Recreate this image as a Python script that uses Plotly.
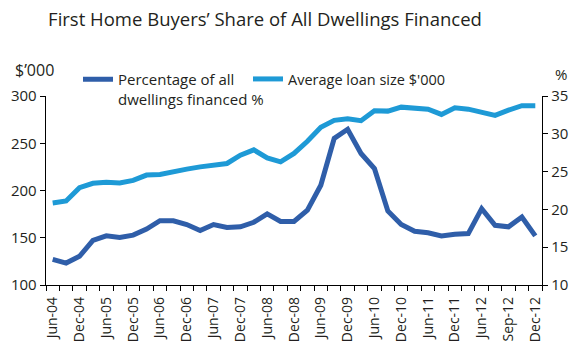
import plotly.graph_objects as go

# Category labels (shown on every other category)
tick_labels = ["Jun-04", "Dec-04", "Jun-05", "Dec-05", "Jun-06", "Dec-06", "Jun-07",
               "Dec-07", "Jun-08", "Dec-08", "Jun-09", "Dec-09", "Jun-10", "Dec-10",
               "Jun-11", "Dec-11", "Jun-12", "Sep-12", "Dec-12"]

# Percentage of all dwellings financed (%), right axis
pct_share = [13.4, 12.9, 13.8, 15.9, 16.5, 16.3, 16.6, 17.4, 18.5, 18.5, 18.0, 17.2,
             18.0, 17.6, 17.7, 18.3, 19.4, 18.4, 18.4, 19.9, 23.2, 29.4, 30.6, 27.4,
             25.4, 19.8, 18.0, 17.1, 16.9, 16.5, 16.7, 16.8, 20.1, 17.9, 17.7, 19.0, 16.5]

# Average loan size ($'000), left axis
avg_loan = [186.8, 188.9, 203.0, 207.6, 208.6, 207.9, 210.7, 216.3, 217.0, 219.2, 222.6,
            225.0, 226.5, 228.6, 237.4, 243.0, 234.5, 230.3, 239.2, 252.1, 266.8, 274.2,
            276.0, 273.9, 284.4, 284.0, 288.2, 287.2, 286.1, 280.5, 287.6, 286.1, 283.0,
            279.5, 285.0, 289.7, 289.7]

n = len(avg_loan)
xs = list(range(n))
label_pos = list(range(0, n, 2))

DARK = "#2F5EA9"
LIGHT = "#1E9AD6"
TXT = "#231F20"
FONT = "Open Sans"

fig = go.Figure()
fig.add_trace(go.Scatter(x=xs, y=pct_share, yaxis="y2", mode="lines",
                         line=dict(color=DARK, width=5),
                         name="Percentage of all<br>dwellings financed %",
                         legend="legend"))
fig.add_trace(go.Scatter(x=xs, y=avg_loan, yaxis="y", mode="lines",
                         line=dict(color=LIGHT, width=5),
                         name="Average loan size $'000", legend="legend2"))

L, R, T, B = 46, 34, 96, 73
W, H = 576, 358
pw = W - L - R
ph = H - T - B

def px_x(p):
    return (p - L) / pw

def px_y(p):
    return (H - B - p) / ph

fig.update_layout(
    width=W, height=H,
    margin=dict(l=L, r=R, t=T, b=B, autoexpand=False),
    paper_bgcolor="white", plot_bgcolor="white",
    font=dict(family=FONT, color=TXT, size=14),
    showlegend=True,
    hovermode=False,
    xaxis=dict(range=[-0.5, n - 0.5], tickmode="array", tickvals=label_pos,
               ticktext=tick_labels, tickangle=-90, ticks="outside", ticklen=5,
               tickcolor="rgba(0,0,0,0)", showgrid=False, zeroline=False,
               showline=True, linecolor="black", linewidth=1.3, automargin=False,
               tickfont=dict(size=14),
               minor=dict(tick0=-0.5, dtick=1, ticks="outside", ticklen=5,
                          tickcolor="black", tickwidth=1, showgrid=False)),
    yaxis=dict(range=[100, 300], dtick=50, tick0=100, ticks="outside", ticklen=5,
               tickcolor="black", showgrid=False, zeroline=False, showline=True,
               linecolor="black", linewidth=1.3, automargin=False,
               tickfont=dict(size=15)),
    yaxis2=dict(range=[10, 35], dtick=5, tick0=10, overlaying="y", side="right",
                ticks="outside", ticklen=5, tickcolor="black", showgrid=False,
                zeroline=False, showline=True, linecolor="black", linewidth=1.3,
                automargin=False, tickfont=dict(size=15)),
    legend=dict(x=px_x(78), y=px_y(63), xanchor="left", yanchor="top",
                orientation="h", valign="top", bgcolor="rgba(0,0,0,0)",
                font=dict(size=15), borderwidth=0),
    legend2=dict(x=px_x(248), y=px_y(63), xanchor="left", yanchor="top",
                 orientation="h", valign="top", bgcolor="rgba(0,0,0,0)",
                 font=dict(size=14.5), borderwidth=0),
    title=dict(text="First Home Buyers\u2019 Share of All Dwellings Financed",
               x=265 / W, xanchor="center", y=1 - 20 / H, yanchor="middle",
               font=dict(size=18.5, color=TXT)),
    annotations=[
        dict(text="$\u2019000", xref="paper", yref="paper", x=px_x(34), y=px_y(70),
             xanchor="center", yanchor="middle", showarrow=False, font=dict(size=16)),
        dict(text="%", xref="paper", yref="paper", x=px_x(561), y=px_y(74),
             xanchor="center", yanchor="middle", showarrow=False, font=dict(size=15)),
    ],
)

fig.write_html("out.html", config={"displayModeBar": False, "staticPlot": True},
               post_script="document.body.style.margin='0';")
